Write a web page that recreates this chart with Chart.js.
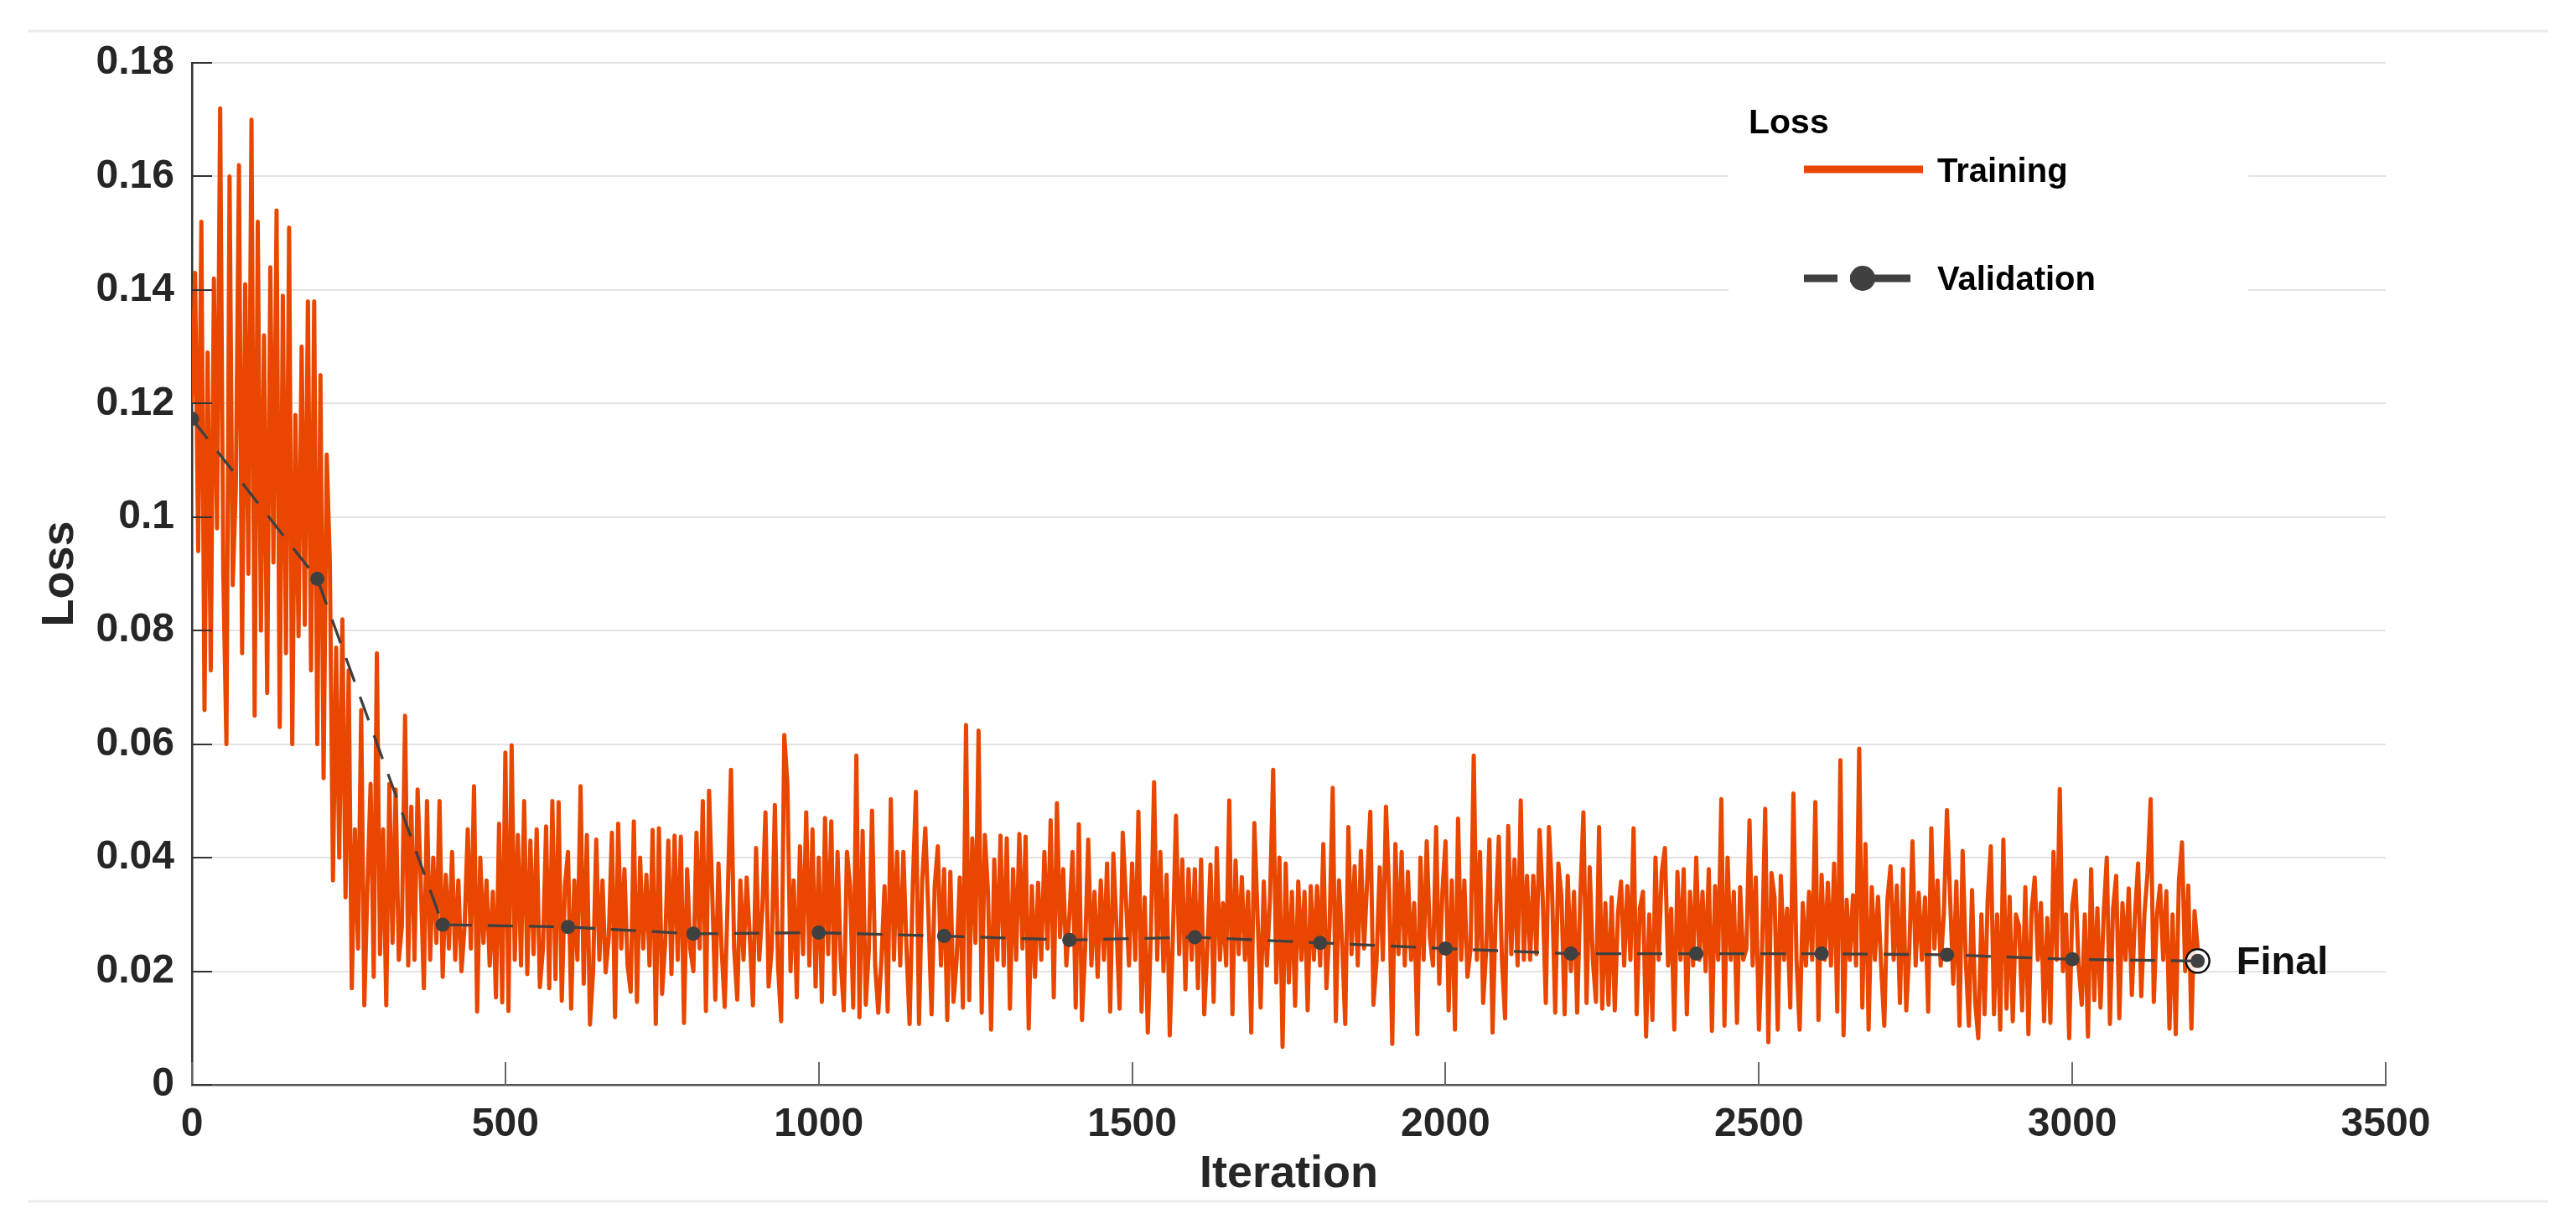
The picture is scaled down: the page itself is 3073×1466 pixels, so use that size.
<!DOCTYPE html>
<html>
<head>
<meta charset="utf-8">
<title>Loss</title>
<script src="https://cdn.jsdelivr.net/npm/chart.js@4.4.1/dist/chart.umd.min.js"></script>
<style>
  html, body { margin: 0; padding: 0; background: #fff; }
  #wrap { position: relative; width: 3073px; height: 1466px; }
  canvas { display: block; }
</style>
</head>
<body>
<div id="wrap"><canvas id="lossChart" width="3073" height="1466"></canvas></div>
<script>
// training loss, one reading every trainStep iterations (0 .. 3200)
const trainStep = 5;
const trainLoss = [
  0.120, 0.143, 0.094, 0.152, 0.066, 0.129, 0.073, 0.142, 0.098, 0.172,
  0.090, 0.060, 0.160, 0.088, 0.105, 0.162, 0.076, 0.141, 0.090, 0.170,
  0.065, 0.152, 0.080, 0.132, 0.069, 0.144, 0.092, 0.154, 0.063, 0.139,
  0.076, 0.151, 0.060, 0.118, 0.079, 0.130, 0.081, 0.138, 0.073, 0.138,
  0.060, 0.125, 0.054, 0.111, 0.092, 0.036, 0.077, 0.040, 0.082, 0.033,
  0.073, 0.017, 0.045, 0.024, 0.066, 0.014, 0.035, 0.053, 0.019, 0.076,
  0.023, 0.045, 0.014, 0.053, 0.025, 0.052, 0.022, 0.028, 0.065, 0.021,
  0.049, 0.022, 0.052, 0.036, 0.017, 0.050, 0.022, 0.040, 0.025, 0.050,
  0.019, 0.037, 0.024, 0.041, 0.022, 0.036, 0.020, 0.028, 0.045, 0.024,
  0.0526, 0.0129, 0.040, 0.025, 0.036, 0.021, 0.034, 0.0154, 0.046, 0.0145,
  0.0585, 0.013, 0.0598, 0.022, 0.044, 0.021, 0.050, 0.0195, 0.043, 0.023,
  0.045, 0.0172, 0.024, 0.0455, 0.017, 0.050, 0.0186, 0.0498, 0.0148, 0.035,
  0.041, 0.0134, 0.036, 0.022, 0.0526, 0.0178, 0.044, 0.0106, 0.020, 0.0432,
  0.022, 0.036, 0.0198, 0.026, 0.0444, 0.0119, 0.046, 0.024, 0.038, 0.021,
  0.0164, 0.0464, 0.0146, 0.040, 0.024, 0.037, 0.021, 0.0449, 0.0107, 0.0452,
  0.016, 0.025, 0.043, 0.0195, 0.0439, 0.022, 0.0437, 0.0109, 0.038, 0.024,
  0.020, 0.0444, 0.024, 0.050, 0.013, 0.0518, 0.034, 0.015, 0.039, 0.024,
  0.0137, 0.034, 0.0555, 0.024, 0.015, 0.036, 0.022, 0.0365, 0.026, 0.014,
  0.0417, 0.022, 0.031, 0.048, 0.0173, 0.024, 0.0493, 0.021, 0.0112, 0.0616,
  0.053, 0.020, 0.036, 0.0154, 0.042, 0.023, 0.048, 0.021, 0.045, 0.0173,
  0.040, 0.0146, 0.047, 0.023, 0.0464, 0.016, 0.041, 0.022, 0.0131, 0.041,
  0.035, 0.0136, 0.058, 0.0119, 0.0447, 0.0141, 0.024, 0.0483, 0.021, 0.0127,
  0.022, 0.035, 0.0129, 0.0503, 0.022, 0.041, 0.021, 0.041, 0.024, 0.0107,
  0.035, 0.0516, 0.0107, 0.036, 0.0452, 0.030, 0.0124, 0.035, 0.042, 0.021,
  0.038, 0.0114, 0.0375, 0.0146, 0.022, 0.0365, 0.0136, 0.0634, 0.0149, 0.0434,
  0.025, 0.0624, 0.0127, 0.044, 0.034, 0.0097, 0.0397, 0.022, 0.0439, 0.021,
  0.0434, 0.0134, 0.038, 0.022, 0.0442, 0.024, 0.0437, 0.0099, 0.035, 0.019,
  0.0356, 0.022, 0.041, 0.024, 0.0466, 0.0154, 0.0496, 0.026, 0.038, 0.021,
  0.030, 0.041, 0.0136, 0.0459, 0.0114, 0.024, 0.0432, 0.021, 0.034, 0.019,
  0.036, 0.022, 0.039, 0.0129, 0.0407, 0.028, 0.0134, 0.0444, 0.033, 0.021,
  0.039, 0.022, 0.0481, 0.0129, 0.033, 0.0092, 0.027, 0.0533, 0.022, 0.041,
  0.020, 0.037, 0.0087, 0.026, 0.0474, 0.023, 0.0397, 0.0168, 0.038, 0.022,
  0.038, 0.017, 0.0397, 0.0124, 0.024, 0.0388, 0.0146, 0.0417, 0.022, 0.032,
  0.021, 0.0501, 0.0124, 0.0395, 0.023, 0.0366, 0.022, 0.034, 0.0092, 0.0461,
  0.030, 0.0136, 0.0358, 0.021, 0.033, 0.0555, 0.018, 0.040, 0.0067, 0.039,
  0.018, 0.034, 0.0139, 0.0358, 0.022, 0.034, 0.0131, 0.035, 0.022, 0.035,
  0.021, 0.0424, 0.017, 0.028, 0.0523, 0.0112, 0.036, 0.025, 0.0107, 0.0454,
  0.023, 0.0385, 0.021, 0.0412, 0.024, 0.036, 0.0481, 0.0141, 0.022, 0.0383,
  0.022, 0.049, 0.034, 0.0072, 0.0424, 0.023, 0.041, 0.021, 0.0375, 0.022,
  0.032, 0.0089, 0.040, 0.022, 0.0429, 0.026, 0.021, 0.0454, 0.0178, 0.034,
  0.0429, 0.0131, 0.036, 0.0097, 0.0469, 0.022, 0.036, 0.019, 0.024, 0.058,
  0.022, 0.041, 0.0144, 0.024, 0.0432, 0.0092, 0.030, 0.0437, 0.022, 0.0117,
  0.0456, 0.023, 0.0397, 0.021, 0.0501, 0.022, 0.0368, 0.022, 0.0368, 0.023,
  0.0449, 0.033, 0.0144, 0.0454, 0.034, 0.0127, 0.039, 0.033, 0.0124, 0.0368,
  0.020, 0.034, 0.0127, 0.033, 0.048, 0.0144, 0.0383, 0.022, 0.0146, 0.0454,
  0.0134, 0.032, 0.0141, 0.033, 0.0131, 0.030, 0.0358, 0.021, 0.035, 0.022,
  0.0452, 0.0124, 0.031, 0.034, 0.0085, 0.030, 0.0114, 0.040, 0.022, 0.0375,
  0.0417, 0.021, 0.031, 0.0097, 0.0375, 0.022, 0.038, 0.0124, 0.034, 0.021,
  0.040, 0.022, 0.034, 0.020, 0.038, 0.0095, 0.035, 0.022, 0.0503, 0.0104,
  0.040, 0.022, 0.034, 0.0109, 0.0348, 0.022, 0.024, 0.0466, 0.021, 0.0365,
  0.0097, 0.024, 0.0486, 0.0075, 0.0373, 0.033, 0.0097, 0.0368, 0.022, 0.031,
  0.0136, 0.0513, 0.022, 0.0097, 0.032, 0.021, 0.034, 0.022, 0.0498, 0.0114,
  0.037, 0.022, 0.0356, 0.021, 0.039, 0.0129, 0.0572, 0.0087, 0.0326, 0.022,
  0.0334, 0.021, 0.0592, 0.0136, 0.0424, 0.0097, 0.0348, 0.022, 0.0331, 0.021,
  0.0104, 0.0326, 0.0385, 0.022, 0.0351, 0.0144, 0.038, 0.0131, 0.024, 0.0429,
  0.021, 0.0338, 0.022, 0.033, 0.0129, 0.0452, 0.024, 0.036, 0.021, 0.030,
  0.0484, 0.033, 0.0178, 0.0358, 0.0104, 0.0412, 0.022, 0.0104, 0.0343, 0.0146,
  0.0082, 0.030, 0.0124, 0.0326, 0.042, 0.0124, 0.030, 0.0097, 0.0432, 0.0134,
  0.0331, 0.0112, 0.030, 0.028, 0.0131, 0.0348, 0.0089, 0.0306, 0.0365, 0.022,
  0.032, 0.0112, 0.0294, 0.0109, 0.041, 0.022, 0.0521, 0.020, 0.030, 0.0082,
  0.0316, 0.036, 0.021, 0.0141, 0.030, 0.0085, 0.038, 0.0149, 0.0311, 0.0136,
  0.030, 0.040, 0.0107, 0.0311, 0.0368, 0.0117, 0.032, 0.022, 0.0346, 0.0158,
  0.030, 0.039, 0.0156, 0.030, 0.0373, 0.0503, 0.0146, 0.030, 0.0351, 0.022,
  0.0341, 0.0099, 0.030, 0.0089, 0.0358, 0.0427, 0.020, 0.0351, 0.0099, 0.0306,
  0.024
];

// validation loss, checked every 200 iterations
const valIter = [0, 200, 400, 600, 800, 1000, 1200, 1400, 1600, 1800, 2000, 2200, 2400, 2600, 2800, 3000, 3200];
const valLoss = [0.1173, 0.0891, 0.0282, 0.0278, 0.0266, 0.0268, 0.0262, 0.0255, 0.0260, 0.0250, 0.0240, 0.0231, 0.0231, 0.0231, 0.0229, 0.0221, 0.0218];

const xTicks = [0, 500, 1000, 1500, 2000, 2500, 3000, 3500];
const xTickLabels = ['0', '500', '1000', '1500', '2000', '2500', '3000', '3500'];
const yTicks = [0, 0.02, 0.04, 0.06, 0.08, 0.1, 0.12, 0.14, 0.16, 0.18];
const yTickLabels = ['0', '0.02', '0.04', '0.06', '0.08', '0.1', '0.12', '0.14', '0.16', '0.18'];

const seriesNames = ['Training', 'Validation'];
const legendTitle = 'Loss';
const finalLabel = 'Final';

const FONT = '"Liberation Sans", Arial, Helvetica, sans-serif';
const TEXT = '#262626';
const ORANGE = '#e94700';
const GREY = '#404040';

// page rules, inward tick marks, legend box and the "Final" note
const decorPlugin = {
  id: 'decor',
  beforeDraw(chart) {
    const ctx = chart.ctx;
    ctx.save();
    ctx.fillStyle = '#ffffff';
    ctx.fillRect(0, 0, chart.width, chart.height);
    ctx.strokeStyle = '#ececec';
    ctx.lineWidth = 3;
    [37, 1433].forEach(yy => {
      ctx.beginPath();
      ctx.moveTo(33, yy);
      ctx.lineTo(3040, yy);
      ctx.stroke();
    });
    ctx.restore();
  },
  afterDatasetsDraw(chart) {
    const ctx = chart.ctx;
    const x = chart.scales.x;
    const y = chart.scales.y;
    ctx.save();

    // ticks pointing into the plot
    ctx.lineWidth = 2;
    ctx.strokeStyle = '#666';
    x.ticks.forEach(t => {
      const px = Math.round(x.getPixelForValue(t.value));
      ctx.beginPath();
      ctx.moveTo(px, y.bottom);
      ctx.lineTo(px, y.bottom - 27);
      ctx.stroke();
    });
    ctx.strokeStyle = '#333';
    y.ticks.forEach(t => {
      const py = Math.round(y.getPixelForValue(t.value));
      ctx.beginPath();
      ctx.moveTo(x.left, py);
      ctx.lineTo(x.left + 24, py);
      ctx.stroke();
    });

    // final validation point label
    const last = valIter.length - 1;
    const fx = x.getPixelForValue(valIter[last]);
    const fy = y.getPixelForValue(valLoss[last]);
    ctx.fillStyle = '#111';
    ctx.font = 'bold 47px ' + FONT;
    ctx.textAlign = 'left';
    ctx.textBaseline = 'middle';
    ctx.fillText(finalLabel, fx + 46, fy + 3);

    // legend
    const train = chart.data.datasets[0];
    const val = chart.data.datasets[1];
    ctx.fillStyle = '#ffffff';
    ctx.fillRect(2062, 95, 620, 310);
    ctx.fillStyle = '#000';
    ctx.font = 'bold 41px ' + FONT;
    ctx.fillText(legendTitle, 2086, 148);

    ctx.lineCap = 'butt';
    ctx.strokeStyle = train.borderColor;
    ctx.lineWidth = 9;
    ctx.beginPath();
    ctx.moveTo(2152, 202);
    ctx.lineTo(2294, 202);
    ctx.stroke();
    ctx.fillStyle = '#000';
    ctx.font = 'bold 40px ' + FONT;
    ctx.fillText(seriesNames[0], 2311, 206);

    ctx.strokeStyle = val.borderColor;
    ctx.beginPath();
    ctx.moveTo(2152, 332);
    ctx.lineTo(2192, 332);
    ctx.moveTo(2207, 332);
    ctx.lineTo(2279, 332);
    ctx.stroke();
    ctx.fillStyle = val.pointBackgroundColor;
    ctx.beginPath();
    ctx.arc(2222, 332, 15, 0, Math.PI * 2);
    ctx.fill();
    ctx.fillStyle = '#000';
    ctx.fillText(seriesNames[1], 2311, 335);

    ctx.restore();
  }
};

const trainPoints = trainLoss.map((v, i) => ({ x: i * trainStep, y: v }));
const valPoints = valIter.map((it, i) => ({ x: it, y: valLoss[i] }));
const lastVal = valPoints[valPoints.length - 1];

new Chart(document.getElementById('lossChart'), {
  type: 'line',
  data: {
    datasets: [
      {
        label: seriesNames[0],
        data: trainPoints,
        borderColor: ORANGE,
        borderWidth: 5,
        borderJoinStyle: 'round',
        pointRadius: 0,
        tension: 0,
        order: 3
      },
      {
        label: seriesNames[1],
        data: valPoints,
        borderColor: GREY,
        borderWidth: 3.3,
        borderDash: [30, 19],
        pointRadius: 8.5,
        pointBackgroundColor: GREY,
        pointBorderWidth: 0,
        tension: 0,
        order: 1
      },
      {
        label: finalLabel,
        data: [lastVal],
        showLine: false,
        pointRadius: 14,
        pointBorderWidth: 2.5,
        pointBorderColor: '#111',
        pointBackgroundColor: 'rgba(255,255,255,0.85)',
        order: 2
      }
    ]
  },
  options: {
    responsive: false,
    animation: false,
    events: [],
    normalized: true,
    layout: { padding: { left: 0, top: 75, right: 227, bottom: 0 } },
    plugins: {
      legend: { display: false },
      tooltip: { enabled: false }
    },
    scales: {
      x: {
        type: 'linear',
        min: 0,
        max: 3500,
        afterBuildTicks: s => { s.ticks = xTicks.map(v => ({ value: v })); },
        afterFit: s => { s.height = 172; },
        grid: { display: false, drawTicks: false },
        border: { display: true, color: '#555', width: 2.5 },
        ticks: {
          autoSkip: false,
          maxRotation: 0,
          padding: 19,
          color: TEXT,
          font: { family: FONT, size: 48, weight: 'bold' },
          callback: (v, i) => xTickLabels[i]
        },
        title: {
          display: true,
          text: 'Iteration',
          color: TEXT,
          font: { family: FONT, size: 54, weight: 'bold' },
          padding: { top: 0, bottom: 32 }
        }
      },
      y: {
        type: 'linear',
        min: 0,
        max: 0.18,
        afterBuildTicks: s => { s.ticks = yTicks.map(v => ({ value: v })); },
        afterFit: s => { s.width = 229; },
        grid: { color: '#e3e3e3', lineWidth: 2, drawTicks: false },
        border: { display: true, color: '#333', width: 2.5 },
        ticks: {
          padding: 21,
          color: TEXT,
          font: { family: FONT, size: 48, weight: 'bold' },
          callback: (v, i) => yTickLabels[i]
        },
        title: {
          display: true,
          text: 'Loss',
          color: TEXT,
          font: { family: FONT, size: 54, weight: 'bold' },
          padding: { top: 40, bottom: 0 }
        }
      }
    }
  },
  plugins: [decorPlugin]
});
</script>
</body>
</html>
